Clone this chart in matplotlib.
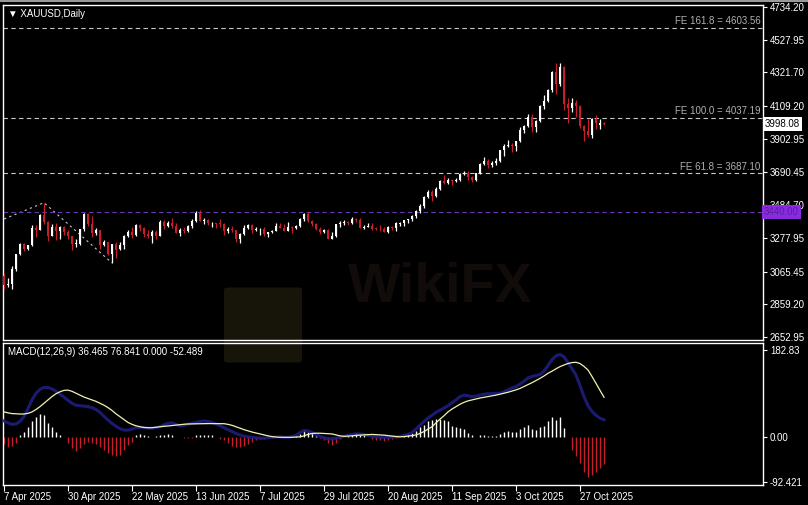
import matplotlib
matplotlib.use("Agg")
from matplotlib import pyplot as plt
from matplotlib.lines import Line2D
from matplotlib.patches import FancyBboxPatch
import matplotlib.transforms as mtransforms
import numpy as np
import pandas as pd

# daily XAUUSD bars, 7 Apr 2025 .. 4 Nov 2025 (no bar on 18 Apr)
opens = [3037, 2982, 2988, 3083, 3176, 3237, 3210, 3230, 3343, 3327,
         3424, 3381, 3288, 3349, 3319, 3344, 3316, 3288, 3239, 3241,
         3334, 3431, 3365, 3306, 3325, 3236, 3249, 3177, 3240, 3205,
         3230, 3290, 3314, 3295, 3357, 3342, 3300, 3288, 3318, 3289,
         3381, 3353, 3373, 3352, 3310, 3325, 3322, 3355, 3386, 3432,
         3385, 3388, 3369, 3370, 3368, 3366, 3323, 3333, 3327, 3274,
         3303, 3338, 3357, 3326, 3332, 3337, 3301, 3313, 3324, 3355,
         3343, 3324, 3347, 3339, 3350, 3397, 3431, 3387, 3368, 3337,
         3314, 3326, 3274, 3289, 3363, 3373, 3380, 3369, 3400, 3393,
         3342, 3348, 3355, 3338, 3335, 3332, 3316, 3348, 3339, 3366,
         3370, 3393, 3397, 3416, 3448, 3476, 3533, 3566, 3545, 3586,
         3636, 3626, 3641, 3634, 3643, 3679, 3690, 3660, 3643, 3685,
         3746, 3763, 3736, 3749, 3760, 3833, 3858, 3865, 3856, 3887,
         3960, 3985, 4040, 3975, 4018, 4110, 4143, 4209, 4326, 4251,
         4356, 4125, 4095, 4126, 4112, 3982, 3952, 3930, 4025, 3990,
         4005]
highs = [3055, 3023, 3100, 3176, 3245, 3245, 3234, 3357, 3357, 3430,
         3500, 3386, 3367, 3371, 3352, 3352, 3328, 3291, 3269, 3337,
         3437, 3435, 3414, 3342, 3326, 3266, 3252, 3241, 3253, 3250,
         3296, 3325, 3345, 3366, 3364, 3348, 3325, 3330, 3325, 3392,
         3392, 3385, 3403, 3375, 3340, 3349, 3360, 3398, 3446, 3452,
         3403, 3398, 3378, 3375, 3398, 3369, 3348, 3350, 3329, 3309,
         3358, 3365, 3366, 3345, 3343, 3345, 3317, 3330, 3369, 3375,
         3366, 3377, 3352, 3361, 3402, 3433, 3439, 3393, 3373, 3345,
         3334, 3334, 3315, 3363, 3385, 3390, 3385, 3409, 3403, 3405,
         3358, 3375, 3374, 3346, 3358, 3345, 3350, 3351, 3379, 3376,
         3393, 3398, 3423, 3454, 3490, 3540, 3578, 3578, 3600, 3646,
         3674, 3658, 3646, 3655, 3685, 3703, 3697, 3668, 3688, 3749,
         3791, 3778, 3761, 3782, 3835, 3872, 3895, 3875, 3889, 3977,
         3991, 4060, 4059, 4022, 4116, 4179, 4218, 4330, 4381, 4381,
         4360, 4160, 4161, 4147, 4113, 3990, 4030, 4031, 4050, 4030,
         4012]
lows = [2956, 2970, 2957, 3072, 3168, 3193, 3204, 3229, 3284, 3325,
        3367, 3260, 3287, 3267, 3268, 3294, 3268, 3202, 3222, 3232,
        3324, 3351, 3281, 3299, 3208, 3228, 3171, 3120, 3154, 3204,
        3205, 3285, 3278, 3287, 3322, 3285, 3277, 3245, 3271, 3288,
        3333, 3344, 3339, 3307, 3293, 3311, 3315, 3341, 3380, 3382,
        3368, 3362, 3348, 3341, 3347, 3295, 3311, 3317, 3255, 3247,
        3297, 3331, 3311, 3322, 3296, 3287, 3283, 3310, 3322, 3340,
        3320, 3319, 3310, 3332, 3345, 3383, 3381, 3351, 3325, 3301,
        3309, 3268, 3268, 3281, 3346, 3357, 3358, 3364, 3376, 3341,
        3331, 3345, 3330, 3330, 3323, 3315, 3311, 3325, 3321, 3351,
        3351, 3373, 3385, 3403, 3436, 3469, 3528, 3511, 3536, 3578,
        3620, 3620, 3613, 3632, 3634, 3677, 3645, 3628, 3639, 3684,
        3735, 3717, 3722, 3737, 3757, 3793, 3851, 3820, 3823, 3884,
        3942, 3978, 3945, 3946, 4007, 4094, 4138, 4200, 4186, 4236,
        4082, 4004, 4069, 4040, 3970, 3886, 3917, 3911, 3964, 3963,
        3990]
closes = [2982, 2988, 3083, 3176, 3237, 3210, 3230, 3343, 3327, 3424,
          3381, 3288, 3349, 3319, 3344, 3316, 3288, 3239, 3241, 3334,
          3431, 3365, 3306, 3325, 3236, 3249, 3177, 3240, 3200, 3230,
          3290, 3314, 3295, 3357, 3342, 3300, 3288, 3318, 3289, 3381,
          3353, 3373, 3352, 3310, 3325, 3322, 3355, 3386, 3432, 3385,
          3388, 3369, 3370, 3368, 3366, 3323, 3333, 3327, 3274, 3303,
          3338, 3357, 3326, 3337, 3337, 3301, 3313, 3324, 3355, 3343,
          3324, 3347, 3339, 3350, 3397, 3431, 3387, 3368, 3337, 3314,
          3326, 3274, 3289, 3363, 3373, 3380, 3369, 3397, 3393, 3342,
          3348, 3355, 3336, 3335, 3332, 3316, 3348, 3339, 3371, 3370,
          3393, 3397, 3416, 3448, 3476, 3533, 3566, 3545, 3586, 3636,
          3626, 3641, 3634, 3643, 3679, 3690, 3660, 3643, 3685, 3746,
          3763, 3736, 3749, 3760, 3833, 3858, 3865, 3856, 3887, 3960,
          3985, 4040, 3975, 4018, 4110, 4143, 4209, 4326, 4251, 4356,
          4125, 4095, 4126, 4112, 3982, 3952, 3930, 4025, 4002, 4005,
          3998.08]

macd_main = [34, 30, 27, 28, 33, 43, 60, 78, 92, 100,
             104, 104, 101, 96, 90, 84, 77, 71, 67, 66,
             65, 64, 62, 58, 52, 44, 36, 29, 23, 18,
             15, 15, 17, 20, 21, 20, 19, 19, 20, 22,
             26, 29, 30, 27, 24, 25, 27, 29, 31, 33,
             34, 33, 31, 28, 24, 20, 16, 12, 8, 5,
             2, 1, 0, -1, -2, -2, -1, 0, 1, 1,
             0, 0, 1, 4, 10, 14, 13, 10, 6, 2,
             -1, -3, -3.5, -2, 0, 2, 4, 6, 7, 7,
             6, 4, 2, 1, 0, 0, 0, 0.5, 1, 2,
             4, 6, 10, 17, 25, 33, 40, 46, 52, 57,
             61, 66, 72, 78, 85, 88, 87, 85, 86, 88,
             90, 91, 91, 91.5, 92, 95, 99, 103, 106, 111,
             117, 124, 127, 129, 131, 138, 150, 162, 170, 173,
             168, 156, 143, 130, 108, 85, 66, 54, 46, 40,
             36.5]
macd_signal = [53, 51, 49.5, 49, 48.6, 48.6, 50, 53, 58, 64,
               71, 78, 85, 91, 95, 98, 98.5, 96, 92, 88,
               84, 81, 78, 75, 71, 67, 62, 56, 49, 43,
               37, 31, 27, 24, 22, 20.5, 20, 20, 21, 22,
               23, 23.6, 24.5, 25.5, 26.5, 27.2, 27.8, 28, 28.2, 28.4,
               28.5, 28.6, 28.6, 28.6, 28.6, 28.4, 27, 25, 22, 19,
               16, 13.5, 11, 9, 7, 5, 3, 1.5, 0.5, 0,
               0, 0, 0, 0.5, 1, 3, 6, 8, 8.5, 8.5,
               8, 7.5, 7, 5, 3, 2, 2.5, 3, 4, 4.5,
               5, 5.5, 6, 5.5, 5, 4.5, 3.6, 2.5, 1.5, 1,
               1.5, 2.5, 3.5, 5, 8, 12, 17, 22, 30, 38,
               45, 53, 59, 64, 69, 73, 76, 78, 80, 82,
               83.5, 85, 86.5, 88, 90, 92, 94, 96.5, 99, 102,
               106, 110, 114, 118.5, 123, 128, 133.6, 138, 143, 147.5,
               151, 154, 156, 156.6, 154, 148, 140.5, 127, 112.7, 98,
               83.5]
macd_hist = [-14, -20, -19, -12, 5, 12, 22, 34, 43, 49,
             47, 30, 22, 12, 5, 1, -12, -23, -28, -23,
             -13, -10, -12, -15, -20, -27, -33, -38, -40, -37,
             -26, -17, -9, 5, 7, 5, 3, 1, 3, 5,
             5, 6, 5, 0.5, 0.5, -2, -2, -1, 5, 5,
             5, 4, 4, 1, -3, -6, -12, -18, -21, -21,
             -18, -13, -9, -6, -4, -3, -2, -1, 0.5, 0.5,
             0.5, 0.5, 1, 3, 6, 15, 11, 8, 3, -2,
             -6, -12, -16, -12, -4, 1, 3, 5, 10, 6,
             5, 1, -4, -5, -6, -7, -5, -4, -1, 1,
             3, 6, 10, 14, 21, 26, 34, 36, 38, 38,
             36, 33, 24, 21, 19, 17, 10, 5, 0.5, 4,
             4, 3.5, 3, 3, 6, 11, 14, 12, 12, 17,
             21, 26, 17, 15, 21, 24, 33, 42, 36, 42,
             19, 0, -26, -40, -54, -72, -83, -78, -72, -65,
             -55]

dates = pd.bdate_range("2025-04-07", "2025-11-04").drop(pd.Timestamp("2025-04-18"))
date_labels = ["7 Apr 2025", "30 Apr 2025", "22 May 2025", "13 Jun 2025",
               "7 Jul 2025", "29 Jul 2025", "20 Aug 2025", "11 Sep 2025",
               "3 Oct 2025", "27 Oct 2025"]
price_ticks = [4734.20, 4527.95, 4321.70, 4109.20, 3902.95, 3690.45,
               3484.70, 3277.95, 3065.45, 2859.20, 2652.95]
macd_ticks = [182.83, 0.00, -92.421]
macd_tick_labels = ["182.83", "0.00", "-92.421"]

fe_names = ["FE 161.8", "FE 100.0", "FE 61.8"]
fe_values = [4603.56, 4037.19, 3687.10]
# expansion anchors: A (off screen, left), B (22 Apr high), C (15 May low)
fe_anchor_bar = [-79, 10, 27]
fe_anchor_price = [2582.81, 3500.0, 3120.0]
level_line = 3440.00
last_price = 3998.08
macd_title = "MACD(12,26,9) 36.465 76.841 0.000 -52.489"

RED = "#c81e2c"
W, H = 808, 505

plt.rcParams["font.family"] = ["Liberation Sans", "DejaVu Sans"]
fig = plt.figure(figsize=(W / 100, H / 100), dpi=100, facecolor="black")


def px_box(left, top, right, bottom):
    return [left / W, 1 - bottom / H, (right - left) / W, (bottom - top) / H]


ax = fig.add_axes(px_box(2.5, 5, 763, 340))
mx = fig.add_axes(px_box(2.5, 342.5, 763, 485), sharex=ax)
for a in (ax, mx):
    a.set_facecolor("none")
    for s in a.spines.values():
        s.set_color("white")
        s.set_linewidth(1.0)

# watermark (very faint)
fig.text(0.545, 0.43, "WikiFX", fontsize=40, fontweight="bold", color="#110c0a",
         ha="center", va="center", zorder=-2)
fig.patches.append(FancyBboxPatch((228 / W, 1 - 360 / H), 70 / W, 70 / H,
                                  boxstyle="round,pad=0.005", transform=fig.transFigure,
                                  facecolor="#17140a", edgecolor="none", zorder=-3))

# candles
x = np.arange(len(closes))
o = np.array(opens, float)
h = np.array(highs, float)
l = np.array(lows, float)
c = np.array(closes, float)
cols = np.where(c >= o, "white", RED)
ax.vlines(x, l, h, colors=cols, lw=0.9, zorder=3)
ax.bar(x, np.maximum(np.abs(c - o), 5), bottom=np.minimum(o, c), width=0.72,
       color=cols, linewidth=0, zorder=4)

# fibo expansion levels
trans = mtransforms.blended_transform_factory(ax.transAxes, ax.transData)
for name, v in zip(fe_names, fe_values):
    ax.axhline(v, color="#c8c8c8", lw=0.8, ls=(0, (4, 3)), zorder=2)
    ax.text(0.997, v + 8, f"{name} = {v:.2f}", transform=trans, ha="right", va="bottom",
            color="#b0b0b0", fontsize=7)
ax.plot(fe_anchor_bar, fe_anchor_price, color="#c8c8c8", lw=0.8, ls=(0, (2, 3)), zorder=2)

ax.axhline(level_line, color="#6a38b0", lw=0.8, ls=(0, (4, 3)), zorder=2)
ax.text(1.0015, level_line, f"{level_line:.2f}", transform=trans, ha="left", va="center",
        color="#5a1e9a", fontsize=7, clip_on=False, zorder=6,
        bbox=dict(boxstyle="square,pad=0.2", fc="#8a2be2", ec="none"))
ax.text(1.002, last_price, f"{last_price:.2f}", transform=trans, ha="left", va="center",
        color="black", fontsize=7, clip_on=False, zorder=6,
        bbox=dict(boxstyle="square,pad=0.2", fc="white", ec="none"))

ax.set_xlim(-0.375, 189.75)
ax.set_ylim(2634.0, 4746.8)
ax.yaxis.tick_right()
ax.set_yticks(price_ticks)
ax.set_yticklabels([f"{v:.2f}" for v in price_ticks])
ax.tick_params(axis="y", colors="white", labelsize=7, length=3, width=0.8, pad=2)
ax.tick_params(axis="x", length=0, labelbottom=False)

# MACD panel
hist = np.array(macd_hist, float)
mx.vlines(x, 0, hist, colors=np.where(hist >= 0, "white", RED), lw=1.0, zorder=2)
mx.plot(x, macd_main, color="#1e1e80", lw=2.2, alpha=0.9, zorder=3)
mx.plot(x, macd_signal, color="#f2f2b0", lw=0.9, zorder=4)
mx.set_ylim(-99.6, 197.9)
mx.yaxis.tick_right()
mx.set_yticks(macd_ticks)
mx.set_yticklabels(macd_tick_labels)
mx.tick_params(axis="y", colors="white", labelsize=7, length=3, width=0.8, pad=2)

tick_pos = dates.get_indexer(pd.to_datetime(date_labels, format="%d %b %Y"))
mx.set_xticks(tick_pos)
mx.set_xticklabels(date_labels, ha="left")
mx.tick_params(axis="x", colors="white", labelsize=7, length=4, width=0.8, pad=1)

fig.text(8 / W, 1 - 14 / H, "\u25bc XAUUSD,Daily", color="white", fontsize=7, va="center")
fig.text(8 / W, 1 - 352 / H, macd_title, color="white", fontsize=7, va="center")
fig.add_artist(Line2D([0, 1], [1 - 1 / H] * 2, transform=fig.transFigure,
                      color="#9a9a9a", lw=1.5))

fig.savefig("out.png", dpi=100, facecolor="black")
